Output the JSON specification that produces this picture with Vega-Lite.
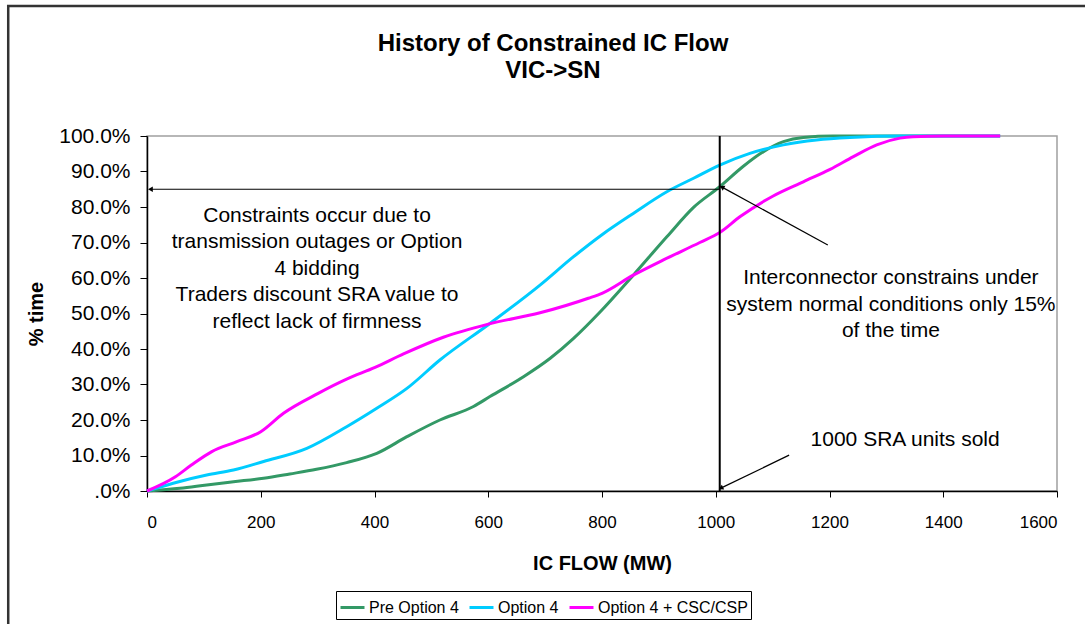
{
  "$schema": "https://vega.github.io/schema/vega-lite/v6.json",
  "width": 910,
  "height": 355,
  "autosize": {"type": "none"},
  "padding": {"left": 147, "top": 136, "right": 28, "bottom": 133},
  "background": "white",
  "config": {
    "font": "Liberation Sans",
    "view": {"stroke": "#a0a0a0", "strokeWidth": 1.5},
    "axis": {"grid": false, "domainColor": "#000", "tickColor": "#000", "labelColor": "#000", "titleColor": "#000", "labelFont": "Liberation Sans", "titleFont": "Liberation Sans", "labelOverlap": false, "titleFontSize": 20, "titleFontWeight": "bold", "domainWidth": 1.5},
    "axisX": {"labelFontSize": 17, "tickSize": 6, "labelPadding": 17, "titlePadding": 23},
    "axisY": {"labelFontSize": 21, "tickSize": 7, "labelPadding": 10, "titlePadding": 12}
  },
  "title": {
    "text": ["History of Constrained IC Flow", "VIC->SN"],
    "fontSize": 24,
    "fontWeight": "bold",
    "font": "Liberation Sans",
    "color": "#000",
    "lineHeight": 27,
    "anchor": "middle",
    "frame": "group",
    "dx": -49,
    "offset": -78
  },
  "datasets": {
    "curves": [
      {"series": "Pre Option 4", "flow": 0, "pct": 0},
      {"series": "Pre Option 4", "flow": 58, "pct": 0.0075},
      {"series": "Pre Option 4", "flow": 105, "pct": 0.017},
      {"series": "Pre Option 4", "flow": 152, "pct": 0.026},
      {"series": "Pre Option 4", "flow": 205, "pct": 0.036},
      {"series": "Pre Option 4", "flow": 251, "pct": 0.048},
      {"series": "Pre Option 4", "flow": 298, "pct": 0.061},
      {"series": "Pre Option 4", "flow": 351, "pct": 0.08},
      {"series": "Pre Option 4", "flow": 404, "pct": 0.106},
      {"series": "Pre Option 4", "flow": 457, "pct": 0.153},
      {"series": "Pre Option 4", "flow": 515, "pct": 0.2},
      {"series": "Pre Option 4", "flow": 574, "pct": 0.238},
      {"series": "Pre Option 4", "flow": 603, "pct": 0.266},
      {"series": "Pre Option 4", "flow": 662, "pct": 0.322},
      {"series": "Pre Option 4", "flow": 709, "pct": 0.374},
      {"series": "Pre Option 4", "flow": 750, "pct": 0.43},
      {"series": "Pre Option 4", "flow": 797, "pct": 0.505},
      {"series": "Pre Option 4", "flow": 855, "pct": 0.608},
      {"series": "Pre Option 4", "flow": 914, "pct": 0.716},
      {"series": "Pre Option 4", "flow": 961, "pct": 0.799},
      {"series": "Pre Option 4", "flow": 1007, "pct": 0.857},
      {"series": "Pre Option 4", "flow": 1048, "pct": 0.914},
      {"series": "Pre Option 4", "flow": 1084, "pct": 0.956},
      {"series": "Pre Option 4", "flow": 1119, "pct": 0.984},
      {"series": "Pre Option 4", "flow": 1154, "pct": 0.996},
      {"series": "Pre Option 4", "flow": 1206, "pct": 1.0},
      {"series": "Pre Option 4", "flow": 1300, "pct": 1.0},
      {"series": "Pre Option 4", "flow": 1400, "pct": 1.0},
      {"series": "Pre Option 4", "flow": 1500, "pct": 1.0},
      {"series": "Option 4", "flow": 0, "pct": 0},
      {"series": "Option 4", "flow": 46, "pct": 0.022},
      {"series": "Option 4", "flow": 105, "pct": 0.045},
      {"series": "Option 4", "flow": 152, "pct": 0.059},
      {"series": "Option 4", "flow": 205, "pct": 0.083},
      {"series": "Option 4", "flow": 281, "pct": 0.12},
      {"series": "Option 4", "flow": 351, "pct": 0.181},
      {"series": "Option 4", "flow": 404, "pct": 0.233},
      {"series": "Option 4", "flow": 457, "pct": 0.289},
      {"series": "Option 4", "flow": 515, "pct": 0.369},
      {"series": "Option 4", "flow": 603, "pct": 0.472},
      {"series": "Option 4", "flow": 691, "pct": 0.58},
      {"series": "Option 4", "flow": 750, "pct": 0.66},
      {"series": "Option 4", "flow": 800, "pct": 0.722},
      {"series": "Option 4", "flow": 855, "pct": 0.782},
      {"series": "Option 4", "flow": 914, "pct": 0.843},
      {"series": "Option 4", "flow": 961, "pct": 0.881},
      {"series": "Option 4", "flow": 1007, "pct": 0.918},
      {"series": "Option 4", "flow": 1060, "pct": 0.951},
      {"series": "Option 4", "flow": 1119, "pct": 0.975},
      {"series": "Option 4", "flow": 1177, "pct": 0.989},
      {"series": "Option 4", "flow": 1236, "pct": 0.996},
      {"series": "Option 4", "flow": 1330, "pct": 1.0},
      {"series": "Option 4", "flow": 1400, "pct": 1.0},
      {"series": "Option 4", "flow": 1500, "pct": 1.0},
      {"series": "Option 4 + CSC/CSP", "flow": 0, "pct": 0},
      {"series": "Option 4 + CSC/CSP", "flow": 50, "pct": 0.04},
      {"series": "Option 4 + CSC/CSP", "flow": 78, "pct": 0.073},
      {"series": "Option 4 + CSC/CSP", "flow": 114, "pct": 0.111},
      {"series": "Option 4 + CSC/CSP", "flow": 158, "pct": 0.139},
      {"series": "Option 4 + CSC/CSP", "flow": 200, "pct": 0.167},
      {"series": "Option 4 + CSC/CSP", "flow": 240, "pct": 0.219},
      {"series": "Option 4 + CSC/CSP", "flow": 301, "pct": 0.275},
      {"series": "Option 4 + CSC/CSP", "flow": 351, "pct": 0.315},
      {"series": "Option 4 + CSC/CSP", "flow": 401, "pct": 0.348},
      {"series": "Option 4 + CSC/CSP", "flow": 451, "pct": 0.386},
      {"series": "Option 4 + CSC/CSP", "flow": 521, "pct": 0.433},
      {"series": "Option 4 + CSC/CSP", "flow": 600, "pct": 0.47},
      {"series": "Option 4 + CSC/CSP", "flow": 691, "pct": 0.502},
      {"series": "Option 4 + CSC/CSP", "flow": 776, "pct": 0.543},
      {"series": "Option 4 + CSC/CSP", "flow": 800, "pct": 0.557},
      {"series": "Option 4 + CSC/CSP", "flow": 855, "pct": 0.608},
      {"series": "Option 4 + CSC/CSP", "flow": 908, "pct": 0.651},
      {"series": "Option 4 + CSC/CSP", "flow": 972, "pct": 0.7},
      {"series": "Option 4 + CSC/CSP", "flow": 1007, "pct": 0.728},
      {"series": "Option 4 + CSC/CSP", "flow": 1043, "pct": 0.773},
      {"series": "Option 4 + CSC/CSP", "flow": 1101, "pct": 0.831},
      {"series": "Option 4 + CSC/CSP", "flow": 1154, "pct": 0.871},
      {"series": "Option 4 + CSC/CSP", "flow": 1201, "pct": 0.906},
      {"series": "Option 4 + CSC/CSP", "flow": 1242, "pct": 0.942},
      {"series": "Option 4 + CSC/CSP", "flow": 1283, "pct": 0.975},
      {"series": "Option 4 + CSC/CSP", "flow": 1324, "pct": 0.994},
      {"series": "Option 4 + CSC/CSP", "flow": 1347, "pct": 0.998},
      {"series": "Option 4 + CSC/CSP", "flow": 1400, "pct": 1.0},
      {"series": "Option 4 + CSC/CSP", "flow": 1500, "pct": 1.0}
    ],
    "thinArrows": [
      {"name": "constraint level", "x1": 1007, "y1": 0.85, "x2": 6, "y2": 0.85},
      {"name": "interconnector note", "x1": 1197, "y1": 0.693, "x2": 1011, "y2": 0.856},
      {"name": "sra note", "x1": 1129, "y1": 0.101, "x2": 1009, "y2": 0.008}
    ],
    "notes": [
      {"label": "Constraints occur due to\ntransmission outages or Option\n4 bidding\nTraders discount SRA value to\nreflect lack of firmness", "flow": 299, "pct": 0.775},
      {"label": "Interconnector constrains under\nsystem normal conditions only 15%\nof the time", "flow": 1308, "pct": 0.6},
      {"label": "1000 SRA units sold", "flow": 1333, "pct": 0.144}
    ]
  },
  "layer": [
    {
      "data": {"values": [{"frame": "chart"}]},
      "mark": {"type": "rect", "fill": "white", "fillOpacity": 0, "stroke": "#333333", "strokeWidth": 2.5, "clip": false},
      "encoding": {
        "x": {"datum": -244, "type": "quantitative", "scale": {"domain": [0, 1600], "nice": false, "zero": true},
          "axis": {"values": [0, 200, 400, 600, 800, 1000, 1200, 1400, 1600], "format": "d", "title": "IC FLOW (MW)"}},
        "x2": {"datum": 1800},
        "y": {"datum": 1.366, "type": "quantitative", "scale": {"domain": [0, 1], "nice": false},
          "axis": {"values": [0, 0.1, 0.2, 0.3, 0.4, 0.5, 0.6, 0.7, 0.8, 0.9, 1.0], "labelExpr": "datum.value == 0 ? '.0%' : format(datum.value, '.1%')", "title": "% time"}},
        "y2": {"datum": -0.5}
      }
    },
    {
      "data": {"name": "curves"},
      "mark": {"type": "line", "strokeWidth": 3, "interpolate": "monotone"},
      "encoding": {
        "x": {"field": "flow", "type": "quantitative",
          "axis": {"values": [0, 200, 400, 600, 800, 1000, 1200, 1400, 1600], "format": "d", "title": "IC FLOW (MW)"}},
        "y": {"field": "pct", "type": "quantitative",
          "axis": {"values": [0, 0.1, 0.2, 0.3, 0.4, 0.5, 0.6, 0.7, 0.8, 0.9, 1.0], "labelExpr": "datum.value == 0 ? '.0%' : format(datum.value, '.1%')", "title": "% time"}},
        "color": {
          "field": "series", "type": "nominal",
          "scale": {"domain": ["Pre Option 4", "Option 4", "Option 4 + CSC/CSP"], "range": ["#339966", "#00CCFF", "#FF00FF"]},
          "legend": {"title": null, "orient": "none", "direction": "horizontal", "legendX": 189, "legendY": 455, "symbolType": "stroke", "symbolSize": 576, "symbolStrokeWidth": 3, "labelFontSize": 16, "labelColor": "#000", "labelFont": "Liberation Sans", "strokeColor": "#000", "padding": 3, "columnPadding": 4, "labelOffset": 3, "gridAlign": "none"}
        }
      }
    },
    {
      "data": {"values": [{"flow": 1007}]},
      "mark": {"type": "rule", "color": "#000", "strokeWidth": 2},
      "encoding": {"x": {"field": "flow", "type": "quantitative",
        "axis": {"values": [0, 200, 400, 600, 800, 1000, 1200, 1400, 1600], "format": "d", "title": "IC FLOW (MW)"}}}
    },
    {
      "data": {"name": "thinArrows"},
      "mark": {"type": "rule", "color": "#000", "strokeWidth": 1.2},
      "encoding": {
        "x": {"field": "x1", "type": "quantitative",
          "axis": {"values": [0, 200, 400, 600, 800, 1000, 1200, 1400, 1600], "format": "d", "title": "IC FLOW (MW)"}},
        "y": {"field": "y1", "type": "quantitative",
          "axis": {"values": [0, 0.1, 0.2, 0.3, 0.4, 0.5, 0.6, 0.7, 0.8, 0.9, 1.0], "labelExpr": "datum.value == 0 ? '.0%' : format(datum.value, '.1%')", "title": "% time"}},
        "x2": {"field": "x2"},
        "y2": {"field": "y2"}
      }
    },
    {
      "data": {"name": "thinArrows"},
      "transform": [{"filter": "datum.name == 'constraint level'"}],
      "mark": {"type": "point", "shape": "triangle-left", "filled": true, "color": "#000", "size": 30, "opacity": 1},
      "encoding": {
        "x": {"field": "x2", "type": "quantitative",
          "axis": {"values": [0, 200, 400, 600, 800, 1000, 1200, 1400, 1600], "format": "d", "title": "IC FLOW (MW)"}},
        "y": {"field": "y2", "type": "quantitative",
          "axis": {"values": [0, 0.1, 0.2, 0.3, 0.4, 0.5, 0.6, 0.7, 0.8, 0.9, 1.0], "labelExpr": "datum.value == 0 ? '.0%' : format(datum.value, '.1%')", "title": "% time"}}
      }
    },
    {
      "data": {"name": "thinArrows"},
      "transform": [{"filter": "datum.name == 'interconnector note'"}],
      "mark": {"type": "point", "shape": "triangle-up", "filled": true, "color": "#000", "size": 30, "opacity": 1, "angle": 299},
      "encoding": {
        "x": {"field": "x2", "type": "quantitative",
          "axis": {"values": [0, 200, 400, 600, 800, 1000, 1200, 1400, 1600], "format": "d", "title": "IC FLOW (MW)"}},
        "y": {"field": "y2", "type": "quantitative",
          "axis": {"values": [0, 0.1, 0.2, 0.3, 0.4, 0.5, 0.6, 0.7, 0.8, 0.9, 1.0], "labelExpr": "datum.value == 0 ? '.0%' : format(datum.value, '.1%')", "title": "% time"}}
      }
    },
    {
      "data": {"name": "thinArrows"},
      "transform": [{"filter": "datum.name == 'sra note'"}],
      "mark": {"type": "point", "shape": "triangle-up", "filled": true, "color": "#000", "size": 30, "opacity": 1, "angle": 244},
      "encoding": {
        "x": {"field": "x2", "type": "quantitative",
          "axis": {"values": [0, 200, 400, 600, 800, 1000, 1200, 1400, 1600], "format": "d", "title": "IC FLOW (MW)"}},
        "y": {"field": "y2", "type": "quantitative",
          "axis": {"values": [0, 0.1, 0.2, 0.3, 0.4, 0.5, 0.6, 0.7, 0.8, 0.9, 1.0], "labelExpr": "datum.value == 0 ? '.0%' : format(datum.value, '.1%')", "title": "% time"}}
      }
    },
    {
      "data": {"name": "notes"},
      "mark": {"type": "text", "fontSize": 21, "font": "Liberation Sans", "color": "#000", "align": "center", "baseline": "middle", "lineBreak": "\n", "lineHeight": 26.5},
      "encoding": {
        "x": {"field": "flow", "type": "quantitative",
          "axis": {"values": [0, 200, 400, 600, 800, 1000, 1200, 1400, 1600], "format": "d", "title": "IC FLOW (MW)"}},
        "y": {"field": "pct", "type": "quantitative",
          "axis": {"values": [0, 0.1, 0.2, 0.3, 0.4, 0.5, 0.6, 0.7, 0.8, 0.9, 1.0], "labelExpr": "datum.value == 0 ? '.0%' : format(datum.value, '.1%')", "title": "% time"}},
        "text": {"field": "label"}
      }
    }
  ]
}
